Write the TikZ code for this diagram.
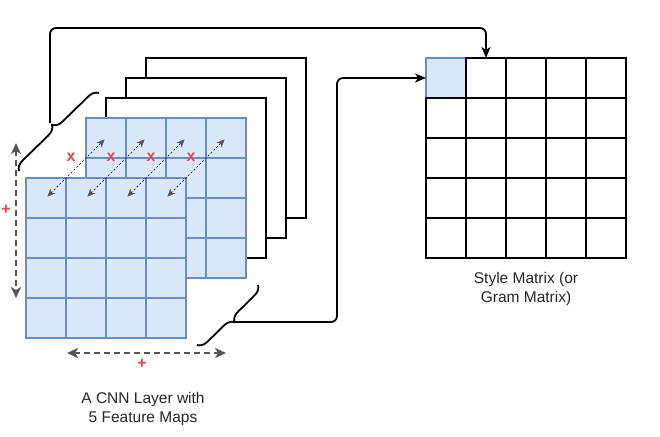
\documentclass[tikz,border=0pt]{standalone}
\usepackage{fontspec}
\setmainfont{Liberation Sans}
\usetikzlibrary{arrows.meta,calc,decorations.pathreplacing}
\definecolor{cellfill}{HTML}{DAE8FC}
\definecolor{cellline}{HTML}{6C8EBF}
\definecolor{markred}{HTML}{E0474C}
\definecolor{spangray}{HTML}{555555}
\begin{document}
\begin{tikzpicture}[x=1pt,y=-1pt,
  cell/.style={rectangle, minimum size=40pt, inner sep=0pt, outer sep=0pt, line width=2pt},
  bluecell/.style={cell, fill=cellfill, draw=cellline},
  gramcell/.style={cell, fill=white, draw=black},
  blankmap/.style={rectangle, minimum size=160pt, inner sep=0pt, outer sep=0pt, fill=white, draw=black, line width=2pt},
  link/.style={draw, line width=1.8pt, rounded corners=6pt, -{Stealth[length=11pt,width=9pt,inset=3pt]}},
  bracket/.style={draw, line width=1.8pt, decorate, decoration={brace, amplitude=10pt}},
  span/.style={draw=spangray, line width=2.2pt, dash pattern=on 6pt off 4pt, {Stealth[length=11pt,width=10pt,inset=3pt]}-{Stealth[length=11pt,width=10pt,inset=3pt]}},
  pair/.style={draw, line width=0.6pt, dash pattern=on 2pt off 2pt, shorten >=2pt, shorten <=2pt, {Stealth[length=8pt,width=7pt,color=spangray]}-{Stealth[length=8pt,width=7pt,color=spangray]}},
  redmark/.style={text=markred, font=\fontsize{16}{16}\selectfont\bfseries, inner sep=0pt},
  caption/.style={align=center, font=\fontsize{15.5}{18.5}\selectfont, text=black!85}]
\useasboundingbox (0,0) rectangle (660,436);
% feature maps, back to front
\node[blankmap] (map5) at (226,138){};
\node[blankmap] (map4) at (206,158){};
\node[blankmap] (map3) at (186,178){};
\foreach \r in {1,...,4}
  \foreach \c in {1,...,4}
    \node[bluecell] (fb-\r-\c) at ({106+40*(\c-1)},{138+40*(\r-1)}){};
\foreach \r in {1,...,4}
  \foreach \c in {1,...,4}
    \node[bluecell] (fa-\r-\c) at ({46+40*(\c-1)},{198+40*(\r-1)}){};
% style matrix
\node[bluecell] (g-1-1) at (446,78){};
\foreach \r in {1,...,5}
  \foreach \c in {1,...,5}{
    \ifnum\r\c=11\else
      \node[gramcell] (g-\r-\c) at ({446+40*(\c-1)},{78+40*(\r-1)}){};
    \fi}
% products between maps
\foreach \c in {1,...,4}{
  \draw[pair] (fa-1-\c.center) -- (fb-1-\c.center);
  \node[redmark] (cross\c) at ({71+40*(\c-1)},157){x};
}
% sizes of a map
\coordinate (vtop) at (16,143);
\coordinate (vbot) at (16,298);
\coordinate (hleft) at (67,353);
\coordinate (hright) at (226,353);
\draw[span] (vtop) -- (vbot);
\draw[span] (hleft) -- (hright);
\node[redmark] (plusv) at (6,210){+};
\node[redmark] (plush) at (142,364){+};
% brackets and links
\coordinate (braceLa) at (19,171);
\coordinate (braceLb) at (99,93);
\coordinate (tipL) at (50,123);
\coordinate (braceRa) at (258,285);
\coordinate (braceRb) at (197,345);
\coordinate (tipR) at (233,322);
\draw[bracket] (braceLa) -- (braceLb);
\draw[bracket] (braceRa) -- (braceRb);
\draw[link] (tipL) |- ($(g-1-2.north)+(0,-30)$) -- (g-1-2.north);
\draw[link] (tipR) -| ($(g-1-1.west)+(-89,0)$) -- (g-1-1.west);
% captions
\node[caption] (layer) at (143,409){A CNN Layer with\\5 Feature Maps};
\node[caption] (gram) at (526,289){Style Matrix (or\\Gram Matrix)};
\end{tikzpicture}
\end{document}
